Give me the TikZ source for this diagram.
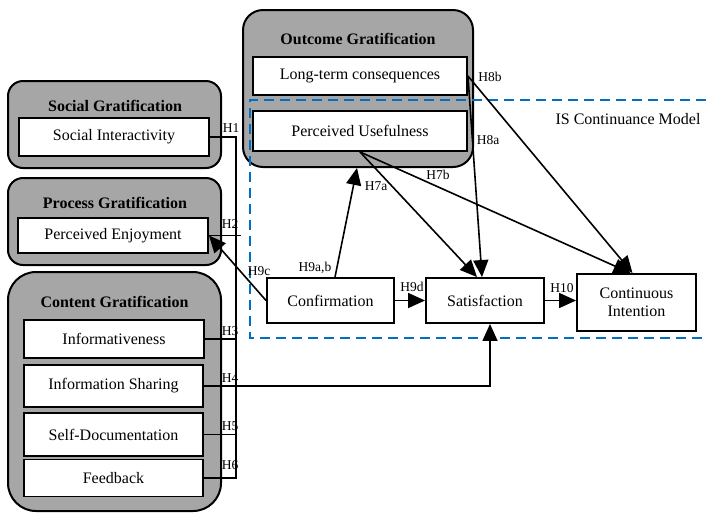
\documentclass[tikz,border=0pt]{standalone}
\usepackage{fontspec}
\setmainfont{Liberation Serif}
\usetikzlibrary{arrows.meta}
\definecolor{grpgray}{RGB}{166,166,166}
\definecolor{isblue}{RGB}{0,112,192}
\begin{document}
\begin{tikzpicture}[x=1pt,y=-1pt,
  group/.style={draw=black, line width=2pt, fill=grpgray, inner sep=0pt},
  box/.style={draw=black, line width=1.9pt, fill=white, inner sep=0pt, align=center, font=\fontsize{16}{18}\selectfont},
  grptitle/.style={font=\fontsize{16}{18}\selectfont\bfseries, inner sep=0pt},
  hlab/.style={font=\fontsize{13.5}{15}\selectfont, inner sep=0pt},
  conn/.style={line width=1.6pt},
  arr/.style={conn, -{Triangle[length=17pt,width=15pt]}},
  isline/.style={draw=isblue, line width=2.8pt, dash pattern=on 10pt off 6pt},
]
\useasboundingbox (0,0) rectangle (706,515);

% groups
\node[group, rounded corners=15pt, minimum width=213pt, minimum height=87pt] (sgrp) at (114.5,124.5) {};
\node[group, rounded corners=15pt, minimum width=213pt, minimum height=87pt] (pgrp) at (114.5,221.5) {};
\node[group, rounded corners=28pt, minimum width=213pt, minimum height=239pt] (cgrp) at (114.5,391.5) {};
\node[group, rounded corners=20pt, minimum width=230pt, minimum height=157pt] (ogrp) at (358,88.5) {};

% IS continuance model frame
\coordinate (isA) at (706,100);
\coordinate (isB) at (250,100);
\coordinate (isC) at (250,338);
\coordinate (isD) at (706,338);
\draw[isline] (isA) -- (isB) -- (isC) -- (isD);
\node[font=\fontsize{16}{18}\selectfont, inner sep=0pt] (islab) at (628,119) {IS Continuance Model};

% titles
\node[grptitle] (st) at (115,106) {Social Gratification};
\node[grptitle] (pt) at (115,203) {Process Gratification};
\node[grptitle] (ct) at (114.5,302) {Content Gratification};
\node[grptitle] (ot) at (358,39) {Outcome Gratification};

% boxes
\node[box, minimum width=190pt, minimum height=38pt] (si) at (114,137) {Social Interactivity};
\node[box, minimum width=190pt, minimum height=35pt] (pe) at (113,235.5) {Perceived Enjoyment};
\node[box, minimum width=180pt, minimum height=38pt] (inf) at (114,339) {Informativeness};
\node[box, minimum width=179pt, minimum height=42pt] (ish) at (113.5,386) {Information Sharing};
\node[box, minimum width=179pt, minimum height=43pt] (sd) at (113.5,434.5) {Self-Documentation};
\node[box, minimum width=179pt, minimum height=37pt] (fb) at (113.5,478) {Feedback};
\node[box, minimum width=214pt, minimum height=38pt] (lt) at (360,76) {Long-term consequences};
\node[box, minimum width=214pt, minimum height=40pt] (pu) at (360,131) {Perceived Usefulness};
\node[box, minimum width=127pt, minimum height=45pt] (conf) at (330.5,300.5) {Confirmation};
\node[box, minimum width=118pt, minimum height=45pt] (sat) at (485,300.5) {Satisfaction};
\node[box, minimum width=119pt, minimum height=57pt] (ci) at (636.5,302.5) {Continuous\\Intention};

% bus on the left
\coordinate (bx) at (236,0);
\coordinate (h2x) at (241,0);
\draw[conn] (si.east) -| (fb.east -| bx) -- (fb.east);
\draw[conn] (pe.east) -- (pe.east -| h2x);
\draw[conn] (inf.east) -- (inf.east -| bx);
\draw[conn] (sd.east) -- (sd.east -| bx);
\draw[arr] (ish.east) -| ([xshift=5pt]sat.south);

% arrows
\draw[arr] (conf.west) -- (pe.east);
\draw[arr] ([xshift=4.5pt]conf.north) -- ([xshift=-1pt]ogrp.south);
\draw[arr] (pu.south) -- ([xshift=-8pt]sat.north);
\draw[arr] (lt.east) -- ([xshift=-3pt]sat.north);
\draw[arr] (pu.south) -- ([xshift=-6pt]ci.north);
\draw[arr] (lt.east) -- ([xshift=-4pt]ci.north);
\draw[arr] (conf.east) -- (sat.west);
\draw[arr] (sat.east) -- (sat.east -| ci.west);

% hypothesis labels
\node[hlab] (lh1) at (231,128) {H1};
\node[hlab] (lh2) at (230,224) {H2};
\node[hlab] (lh3) at (230,331) {H3};
\node[hlab] (lh4) at (230,378) {H4};
\node[hlab] (lh5) at (230,426) {H5};
\node[hlab] (lh6) at (230,465) {H6};
\node[hlab] (lh9c) at (259,271) {H9c};
\node[hlab] (lh9ab) at (315,268) {H9a,b};
\node[hlab] (lh9d) at (412,287) {H9d};
\node[hlab] (lh7a) at (376,186) {H7a};
\node[hlab] (lh7b) at (438,175) {H7b};
\node[hlab] (lh8a) at (488,140) {H8a};
\node[hlab] (lh8b) at (490,77) {H8b};
\node[hlab] (lh10) at (562,288) {H10};
\end{tikzpicture}
\end{document}
